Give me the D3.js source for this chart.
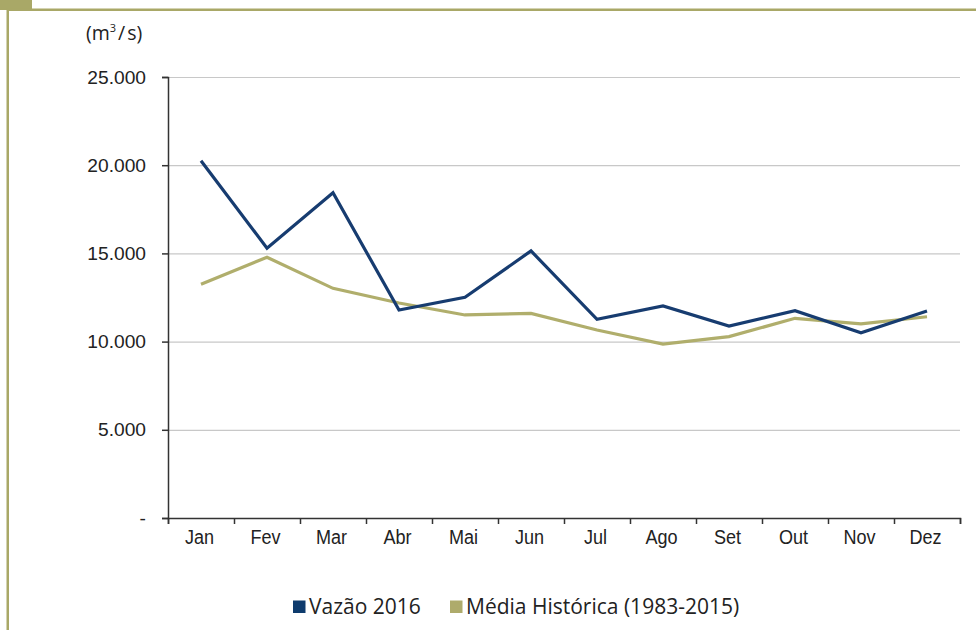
<!DOCTYPE html>
<html lang="pt">
<head>
    <meta charset="UTF-8">
    <title>Vazão 2016 x Média Histórica</title>
    <script src="https://d3js.org/d3.v7.min.js"></script>
    <style>
        body { margin: 0; background: #fff; }
        svg { display: block; }
    </style>
</head>
<body>
    <div id="chart"></div>
    <script>
        // Data
        const months = ["Jan", "Fev", "Mar", "Abr", "Mai", "Jun", "Jul", "Ago", "Set", "Out", "Nov", "Dez"];
        const vazao2016 = [20250, 15300, 18440, 11790, 12510, 15140, 11260, 12020, 10880, 11750, 10500, 11730];
        const mediaHistorica = [13250, 14780, 13020, 12190, 11510, 11600, 10660, 9860, 10280, 11320, 11000, 11410];
        const yTicks = [0, 5000, 10000, 15000, 20000, 25000];
        const seriesNames = ["Vazão 2016", "Média Histórica (1983-2015)"];
        const seriesColors = ["#173c70", "#b0ae6c"];

        const width = 976, height = 630;
        const plot = {left: 168, right: 960, top: 77, bottom: 518};

        const svg = d3.select("#chart").append("svg")
            .attr("width", width)
            .attr("height", height);

        // Olive frame: corner block, top rule, left rule
        const frameColor = "#a9a867";
        svg.append("rect").attr("x", 0).attr("y", 0).attr("width", 32).attr("height", 10).attr("fill", frameColor);
        svg.append("rect").attr("x", 7).attr("y", 8.5).attr("width", width - 7).attr("height", 2.5).attr("fill", frameColor);
        svg.append("rect").attr("x", 6.5).attr("y", 8.5).attr("width", 2.5).attr("height", height).attr("fill", frameColor);

        const x = d3.scaleBand().domain(months).range([plot.left, plot.right]);
        const xEdges = d3.scaleLinear().domain([0, months.length]).range([plot.left, plot.right]);
        const y = d3.scaleLinear().domain([0, 25000]).range([plot.bottom, plot.top]);

        const ptBR = d3.formatLocale({decimal: ",", thousands: ".", grouping: [3], currency: ["R$", ""]});
        const fmt = ptBR.format(",.0f");

        // Gridlines
        svg.append("g")
            .attr("transform", `translate(${plot.left},0)`)
            .call(d3.axisLeft(y).tickValues(yTicks.filter(d => d > 0)).tickSize(-(plot.right - plot.left)).tickFormat(""))
            .call(g => g.select(".domain").remove())
            .call(g => g.selectAll("line").attr("stroke", "#c8c8c8").attr("stroke-width", 1.2));

        // Y axis
        svg.append("g")
            .attr("transform", `translate(${plot.left},0)`)
            .call(d3.axisLeft(y).tickValues(yTicks).tickSize(6).tickPadding(16)
                .tickFormat(d => d === 0 ? "-" : fmt(d)))
            .call(g => g.select(".domain").attr("stroke", "#333").attr("stroke-width", 1.5))
            .call(g => g.selectAll("line").attr("stroke", "#333").attr("stroke-width", 1.5))
            .call(g => g.selectAll("text")
                .attr("font-family", "'Liberation Sans', Arial, sans-serif")
                .attr("font-size", 19.2)
                .attr("fill", "#222"));

        // X axis: tick marks at category edges
        svg.append("g")
            .attr("transform", `translate(0,${plot.bottom})`)
            .call(d3.axisBottom(xEdges).tickValues(d3.range(months.length + 1)).tickSize(6).tickFormat(""))
            .call(g => g.select(".domain").attr("stroke", "#333").attr("stroke-width", 1.5))
            .call(g => g.selectAll("line").attr("stroke", "#333").attr("stroke-width", 1.5));

        // X axis labels at category centres (narrow Arial look via horizontal squeeze)
        svg.append("g")
            .attr("transform", `translate(-1.5,${plot.bottom})`)
            .call(d3.axisBottom(x).tickSize(0).tickPadding(11))
            .call(g => g.select(".domain").remove())
            .call(g => g.selectAll("text")
                .attr("font-family", "'Liberation Sans', Arial, sans-serif")
                .attr("font-size", 21)
                .attr("transform", "scale(0.86,1)")
                .attr("fill", "#222"));

        // Lines
        const line = d3.line()
            .x((d, i) => x(months[i]) + x.bandwidth() / 2)
            .y(d => y(d));

        [mediaHistorica, vazao2016].forEach((s, k) => {
            svg.append("path")
                .datum(s)
                .attr("fill", "none")
                .attr("stroke", k === 0 ? seriesColors[1] : seriesColors[0])
                .attr("stroke-width", 3.2)
                .attr("stroke-linejoin", "miter")
                .attr("d", line);
        });

        // Unit label
        svg.append("text")
            .attr("x", 86).attr("y", 40)
            .attr("font-family", "'Open Sans', 'Noto Sans', sans-serif")
            .attr("font-size", 19.5)
            .attr("fill", "#222")
            .html("(m<tspan dy='-8' font-size='11'>3</tspan><tspan dy='8' dx='2'>/</tspan><tspan dx='2'>s)</tspan>");

        // Legend
        const legendX = [293, 450];
        const legend = svg.append("g").attr("font-family", "'Open Sans', 'Noto Sans', sans-serif");
        seriesNames.forEach((name, i) => {
            legend.append("rect")
                .attr("x", legendX[i]).attr("y", 600.5)
                .attr("width", 12.5).attr("height", 12.5)
                .attr("fill", i === 0 ? "#0e3b6d" : "#aeab6b");
            legend.append("text")
                .attr("x", legendX[i] + 16).attr("y", 614)
                .attr("font-size", 21)
                .attr("fill", "#222")
                .text(name);
        });
    </script>
</body>
</html>
